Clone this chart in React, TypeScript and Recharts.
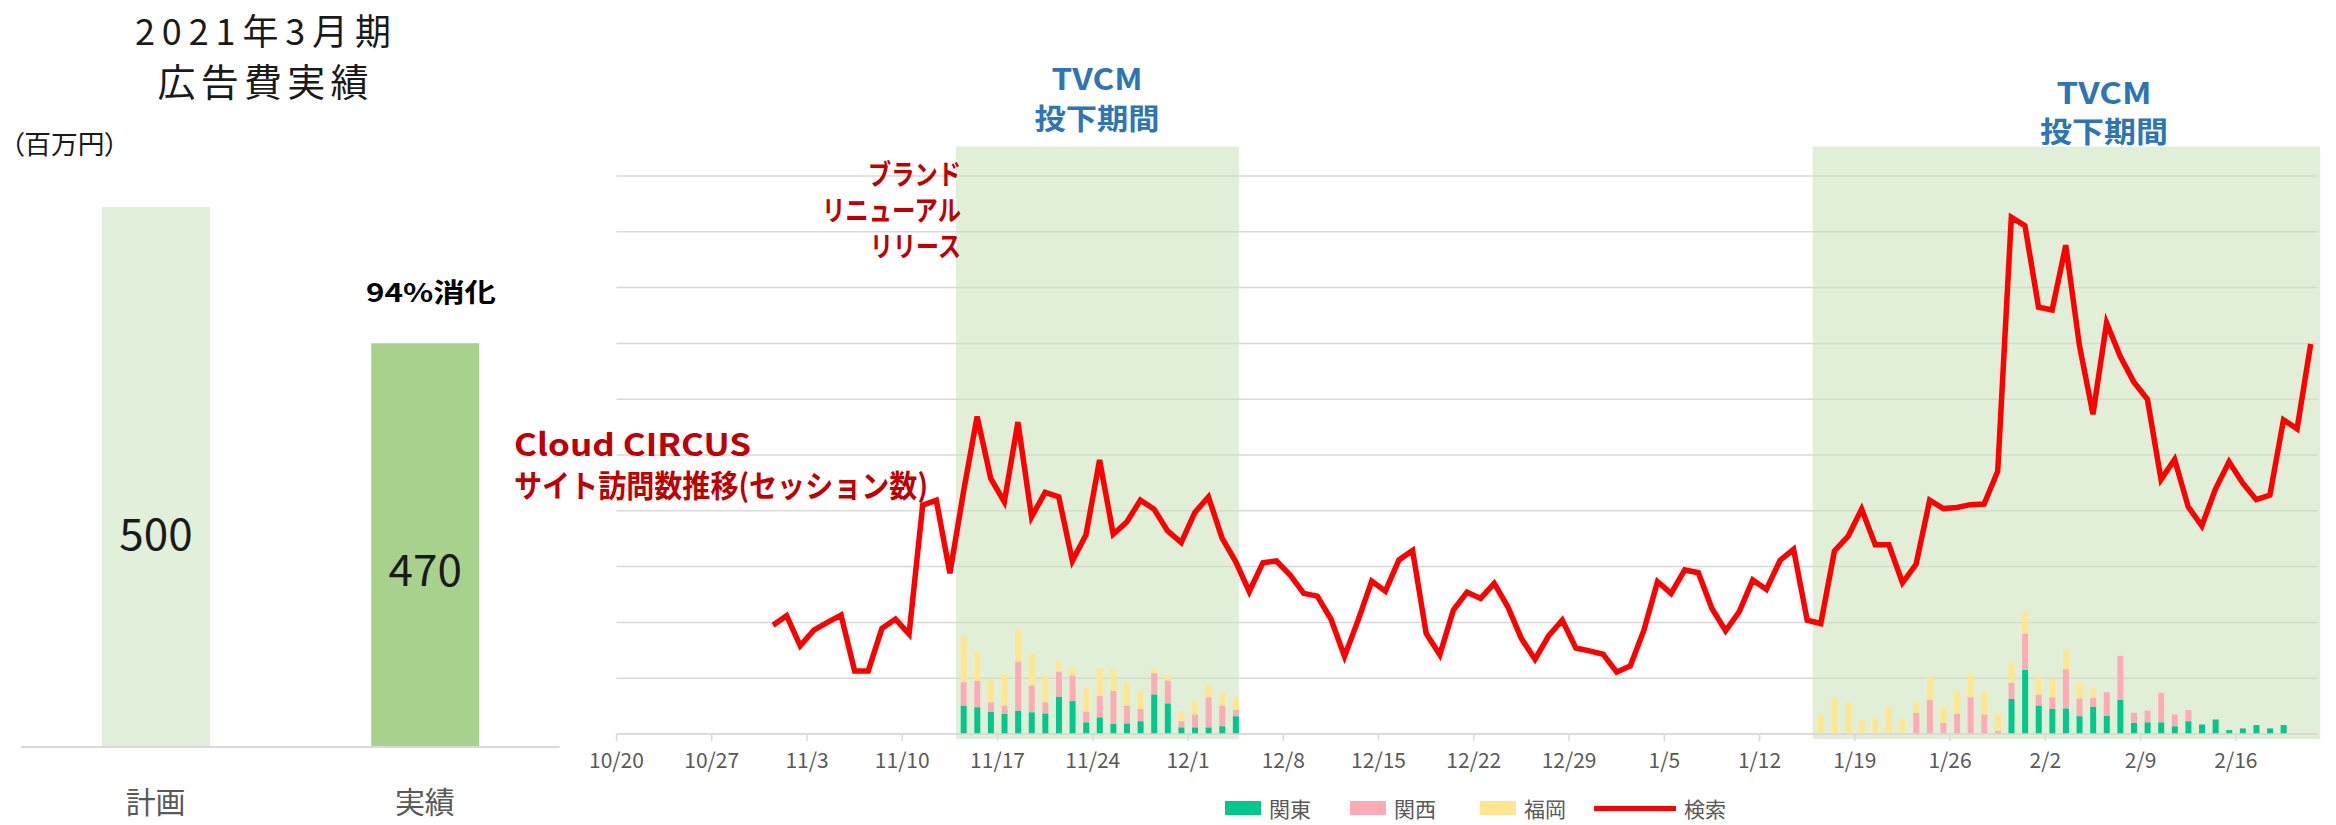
import React from 'react';
import {
  BarChart,
  Bar,
  Cell,
  LabelList,
  ComposedChart,
  Line,
  XAxis,
  YAxis,
  CartesianGrid,
  ReferenceArea,
  Legend,
} from 'recharts';

// --- left panel: ad budget (百万円) ---
const budgetCategories = ['計画', '実績'];
const budgetValues = [500, 470];
const budgetColors = ['#E2EFDA', '#A9D18E'];

// --- right panel: daily axis starts 2020/10/20 (day 0) ---
const weekTicks = [
  '10/20', '10/27', '11/3', '11/10', '11/17', '11/24', '12/1', '12/8', '12/15',
  '12/22', '12/29', '1/5', '1/12', '1/19', '1/26', '2/2', '2/9', '2/16',
];

// 検索: site sessions, one value per day from 10/31 (day 11) to 2/21 (day 124)
const searchStartDay = 11;
const searchSessions = [
  195, 212, 158, 186, 200, 213, 113, 113, 189, 206, 179, 410, 419, 288,
  434, 569, 458, 416, 559, 389, 433, 425, 310, 357, 491, 358, 380, 419,
  403, 364, 343, 397, 425, 351, 309, 255, 307, 310, 285, 252, 247, 206,
  139, 204, 274, 256, 312, 329, 180, 142, 222, 254, 243, 270, 228, 171,
  134, 176, 204, 154, 149, 143, 111, 122, 186, 273, 252, 294, 289, 225,
  185, 219, 276, 259, 311, 331, 204, 198, 328, 354, 403, 339, 339, 271,
  304, 419, 404, 406, 411, 412, 471, 926, 911, 765, 760, 876, 697, 573,
  737, 677, 631, 600, 456, 492, 407, 373, 439, 488, 450, 420, 428, 563,
  547, 699,
];

// TVCM wave 1: 11/14 (day 25) .. 12/4
const wave1StartDay = 25;
const kanto1 = [51, 48, 40, 36, 42, 39, 37, 67, 59, 21, 30, 18, 19, 23, 71, 55, 12, 12, 12, 14, 32];
const kansai1 = [42, 47, 17, 15, 88, 48, 20, 45, 46, 19, 38, 59, 32, 22, 38, 41, 11, 23, 54, 37, 11];
const fukuoka1 = [82, 52, 41, 57, 57, 57, 48, 18, 15, 43, 49, 38, 41, 32, 8, 10, 18, 23, 22, 23, 22];

// TVCM wave 2: 1/16 (day 88) .. 2/19
const wave2StartDay = 88;
const kanto2 = [
  0, 0, 0, 0, 0, 0, 0, 0, 0, 0, 0, 0, 0, 0,
  63, 115, 51, 45, 46, 32, 49, 33, 61, 20, 21, 21, 14, 23, 17, 26, 7, 10, 16, 10, 16,
];
const kansai2 = [
  0, 0, 0, 0, 0, 0, 0, 38, 61, 20, 36, 66, 35, 6,
  29, 65, 20, 21, 70, 32, 16, 42, 79, 18, 21, 53, 21, 20, 0, 0, 0, 0, 0, 0, 0,
];
const fukuoka2 = [
  35, 64, 56, 26, 30, 49, 27, 18, 42, 29, 39, 42, 42, 31,
  36, 40, 31, 33, 36, 28, 18, 0, 0, 0, 0, 0, 0, 0, 0, 0, 0, 0, 0, 0, 0,
];

// shaded TVCM periods (in axis days)
const tvcmPeriods = [
  { from: 24.95, to: 45.75 },
  { from: 87.9, to: 125.2 },
];

const FONT = "'Noto Sans CJK JP', 'Noto Sans', sans-serif";
const GREEN = '#00C88C';
const PINK = '#FFABB5';
const YELLOW = '#FFE68F';
const RED = '#FF0000';
const GRID = '#D9D9D9';

const pick = (arr: number[], start: number, day: number) => {
  const i = day - start;
  return i >= 0 && i < arr.length ? arr[i] : null;
};

const dailyRows = searchSessions.map((v, i) => {
  const day = searchStartDay + i;
  return {
    x: day + 0.5,
    search: v,
    kanto: pick(kanto1, wave1StartDay, day) ?? pick(kanto2, wave2StartDay, day),
    kansai: pick(kansai1, wave1StartDay, day) ?? pick(kansai2, wave2StartDay, day),
    fukuoka: pick(fukuoka1, wave1StartDay, day) ?? pick(fukuoka2, wave2StartDay, day),
  };
});

const budgetRows = budgetCategories.map((name, i) => ({ name, value: budgetValues[i] }));

const labelDrop = [0.6, 0.555];
const BudgetLabel = (props: any) => {
  const { x, y, width, height, value, index } = props;
  return (
    <text
      x={x + width / 2}
      y={y + height * labelDrop[index]}
      textAnchor="middle"
      dominantBaseline="central"
      fontSize={44}
      fill="#1a1a1a"
      fontFamily={FONT}
    >
      {value}
    </text>
  );
};

// legend laid out like the original (x in page pixels)
const legendItems = [
  { label: '関東', color: GREEN, kind: 'box', x: 1225 },
  { label: '関西', color: PINK, kind: 'box', x: 1350 },
  { label: '福岡', color: YELLOW, kind: 'box', x: 1480 },
  { label: '検索', color: RED, kind: 'line', x: 1594 },
];

const LegendBox = () => (
  <div style={{ position: 'relative', width: 2336, height: 28, fontFamily: FONT, fontSize: 21, color: '#595959' }}>
    {legendItems.map((it) => (
      <div
        key={it.label}
        style={{ position: 'absolute', left: it.x, top: 0, height: 28, display: 'flex', alignItems: 'center', whiteSpace: 'nowrap' }}
      >
        {it.kind === 'box' ? (
          <span style={{ display: 'inline-block', width: 36, height: 14, background: it.color, marginRight: 8 }} />
        ) : (
          <span style={{ display: 'inline-block', width: 82, height: 5, background: it.color, marginRight: 8 }} />
        )}
        <span style={{ lineHeight: '28px' }}>{it.label}</span>
      </div>
    ))}
  </div>
);

const App: React.FC = () => {
  return (
    <div style={{ position: 'absolute', left: 0, top: 0, width: 2336, height: 825, background: '#fff', fontFamily: FONT, overflow: 'hidden' }}>
      {/* right: sessions + TV spots */}
      <div style={{ position: 'absolute', left: 0, top: 0 }}>
        <ComposedChart
          width={2336}
          height={825}
          data={dailyRows}
          margin={{ top: 176, right: 18.5, left: 616.5, bottom: 51 }}
        >
          <CartesianGrid vertical={false} stroke={GRID} strokeWidth={1.5} />
          {tvcmPeriods.map((p, i) => (
            <ReferenceArea
              key={i}
              x1={p.from}
              x2={p.to}
              y1={-9}
              y2={1053}
              ifOverflow="visible"
              fill="#C9E1B9"
              fillOpacity={0.55}
              stroke="none"
            />
          ))}
          <XAxis
            dataKey="x"
            type="number"
            domain={[0, 125]}
            ticks={weekTicks.map((_, i) => i * 7)}
            tickFormatter={(v: number) => weekTicks[Math.round(v / 7)]}
            allowDataOverflow
            height={40}
            axisLine={{ stroke: GRID, strokeWidth: 1.5 }}
            tickLine={{ stroke: GRID, strokeWidth: 1.5 }}
            tickSize={7}
            tickMargin={12}
            tick={{ fill: '#595959', fontSize: 21, fontFamily: FONT }}
            interval={0}
          />
          <YAxis hide domain={[0, 1000]} ticks={[0, 100, 200, 300, 400, 500, 600, 700, 800, 900, 1000]} />
          <Bar dataKey="kanto" stackId="s" fill={GREEN} barSize={6} isAnimationActive={false} />
          <Bar dataKey="kansai" stackId="s" fill={PINK} barSize={6} isAnimationActive={false} />
          <Bar dataKey="fukuoka" stackId="s" fill={YELLOW} barSize={6} isAnimationActive={false} />
          <Line
            type="linear"
            dataKey="search"
            stroke={RED}
            strokeWidth={5.5}
            dot={false}
            activeDot={false}
            isAnimationActive={false}
          />
          <Legend
            layout="horizontal"
            verticalAlign="middle"
            align="center"
            content={<LegendBox />}
            wrapperStyle={{ position: 'absolute', left: 0, top: 794, width: 2336, height: 28 }}
          />
        </ComposedChart>
      </div>

      {/* left: budget */}
      <div style={{ position: 'absolute', left: 0, top: 0 }}>
        <BarChart
          width={600}
          height={825}
          data={budgetRows}
          margin={{ top: 207, right: 40.5, left: 21, bottom: 18 }}
          barCategoryGap={0}
        >
          <XAxis
            dataKey="name"
            height={60}
            axisLine={{ stroke: GRID, strokeWidth: 2 }}
            tickLine={false}
            tickMargin={39}
            tick={{ fill: '#595959', fontSize: 30, fontFamily: FONT }}
          />
          <YAxis hide domain={[381, 500]} allowDataOverflow />
          <Bar dataKey="value" barSize={108} isAnimationActive={false}>
            {budgetRows.map((_, i) => (
              <Cell key={i} fill={budgetColors[i]} />
            ))}
            <LabelList dataKey="value" content={<BudgetLabel />} />
          </Bar>
        </BarChart>
      </div>

      {/* text annotations */}
      <svg
        width={2336}
        height={825}
        style={{ position: 'absolute', left: 0, top: 0, pointerEvents: 'none' }}
        fontFamily={FONT}
      >
        <text x={263} y={29} textAnchor="middle" dominantBaseline="central" fontSize={36} fill="#1a1a1a" textLength={256} lengthAdjust="spacing">2021年3月期</text>
        <text x={263} y={79} textAnchor="middle" dominantBaseline="central" fontSize={38} fill="#1a1a1a" textLength={211} lengthAdjust="spacing">広告費実績</text>
        <text x={11} y={142} dominantBaseline="central" fontSize={26} fill="#1a1a1a" style={{ fontFeatureSettings: '"palt"' }} textLength={107} lengthAdjust="spacingAndGlyphs">（百万円）</text>
        <text x={431} y={290} textAnchor="middle" dominantBaseline="central" fontSize={26} fontWeight="bold" fill="#000" textLength={130} lengthAdjust="spacingAndGlyphs">94%消化</text>

        <text x={1097} y={77} textAnchor="middle" dominantBaseline="central" fontSize={30} fontWeight="bold" fill="#2E75B6" textLength={91} lengthAdjust="spacingAndGlyphs">TVCM</text>
        <text x={1097} y={117} textAnchor="middle" dominantBaseline="central" fontSize={29} fontWeight="bold" fill="#2E75B6" textLength={125} lengthAdjust="spacingAndGlyphs">投下期間</text>
        <text x={2104} y={91} textAnchor="middle" dominantBaseline="central" fontSize={30} fontWeight="bold" fill="#2E75B6" textLength={95} lengthAdjust="spacingAndGlyphs">TVCM</text>
        <text x={2104} y={130} textAnchor="middle" dominantBaseline="central" fontSize={29} fontWeight="bold" fill="#2E75B6" textLength={128} lengthAdjust="spacingAndGlyphs">投下期間</text>

        <text x={961} y={173} textAnchor="end" dominantBaseline="central" fontSize={28} fontWeight="bold" fill="#C00000" textLength={93} lengthAdjust="spacingAndGlyphs">ブランド</text>
        <text x={961} y={209} textAnchor="end" dominantBaseline="central" fontSize={28} fontWeight="bold" fill="#C00000" textLength={139} lengthAdjust="spacingAndGlyphs">リニューアル</text>
        <text x={961} y={245} textAnchor="end" dominantBaseline="central" fontSize={28} fontWeight="bold" fill="#C00000" textLength={91} lengthAdjust="spacingAndGlyphs">リリース</text>

        <text x={514} y={442} dominantBaseline="central" fontSize={31} fontWeight="bold" fill="#C00000" textLength={237} lengthAdjust="spacingAndGlyphs">Cloud CIRCUS</text>
        <text x={514} y={483} dominantBaseline="central" fontSize={31} fontWeight="bold" fill="#C00000" textLength={414} lengthAdjust="spacingAndGlyphs">サイト訪問数推移(セッション数)</text>
      </svg>
    </div>
  );
};

export default App;
